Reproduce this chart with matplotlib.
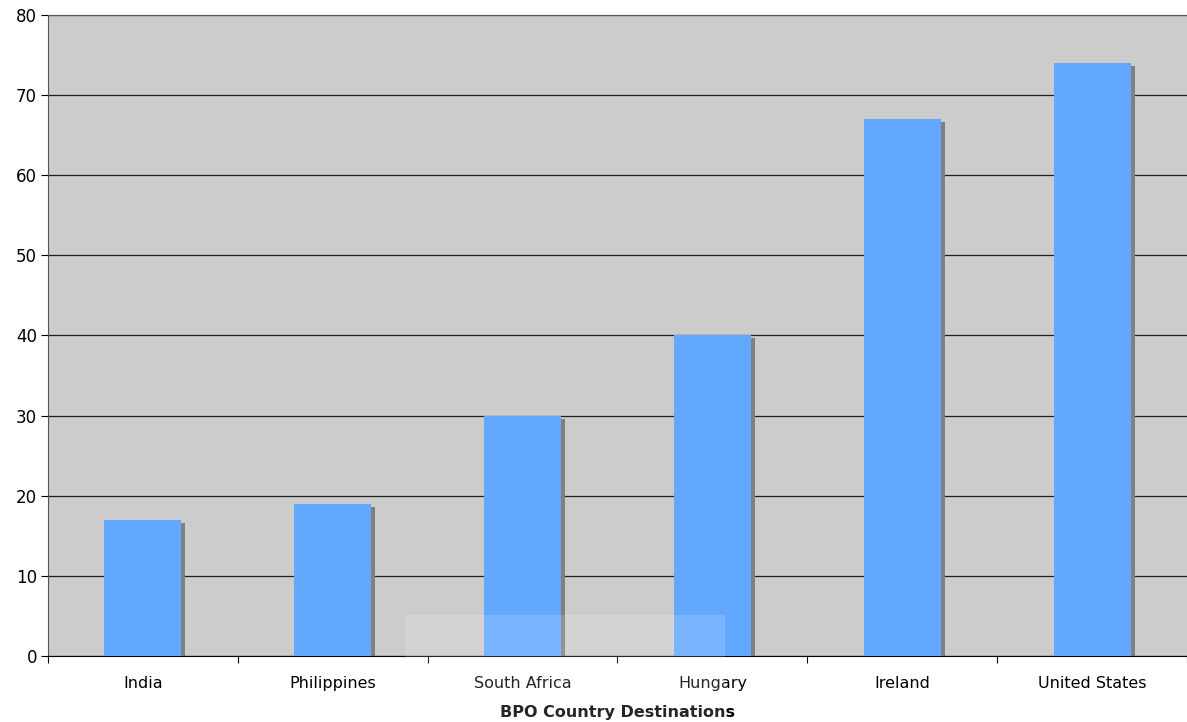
import matplotlib.pyplot as plt
import matplotlib.transforms as mtransforms
from matplotlib.patches import Rectangle
import numpy as np

countries = ["India", "Philippines", "South Africa", "Hungary", "Ireland", "United States"]
values = [17, 19, 30, 40, 67, 74]

plt.rcParams['font.family'] = ['Verdana', 'DejaVu Sans']

fig = plt.figure(figsize=(11.87, 7.22), dpi=100)
ax = fig.add_axes([48 / 1187, 1 - 656 / 722, 1 - 48 / 1187, (656 - 15) / 722])
ax.set_facecolor('#cccccc')

x = np.arange(len(countries))
width = 0.405

# shadow bars, shifted a few pixels right and down
shadow = mtransforms.offset_copy(ax.transData, fig=fig, x=4, y=-3, units='dots')
ax.bar(x, values, width=width, color='#808080', transform=shadow, zorder=2)
ax.bar(x, values, width=width, color='#62a8ff', zorder=3)

ax.set_xlim(-0.5, len(countries) - 0.5)
ax.set_ylim(0, 80)
ax.set_yticks(range(0, 81, 10))
ax.yaxis.grid(True, color='#202020', linewidth=0.9)
ax.set_axisbelow(True)

ax.set_xticks(x)
ax.set_xticklabels(countries)
ax.set_xticks(np.arange(-0.5, len(countries) - 0.4, 1), minor=True)
ax.tick_params(axis='x', which='major', length=0, pad=14.5, labelsize=11.5, colors='black')
ax.tick_params(axis='x', which='minor', length=5, width=0.8, direction='out')
ax.tick_params(axis='y', length=5, width=0.8, labelsize=12, pad=3)

for side in ['left', 'top']:
    ax.spines[side].set_color('#555555')
ax.spines['right'].set_visible(False)
ax.spines['bottom'].set_color('black')

ax.set_xlabel('BPO Country Destinations', fontsize=11.5, fontweight='bold', labelpad=10)

# faint watermark block at the bottom centre
fig.patches.append(Rectangle((405 / 1187, 0), 320 / 1187, 107 / 722, transform=fig.transFigure,
                             facecolor='white', alpha=0.15, edgecolor='none', zorder=10))

fig.savefig('out.png', dpi=100)
